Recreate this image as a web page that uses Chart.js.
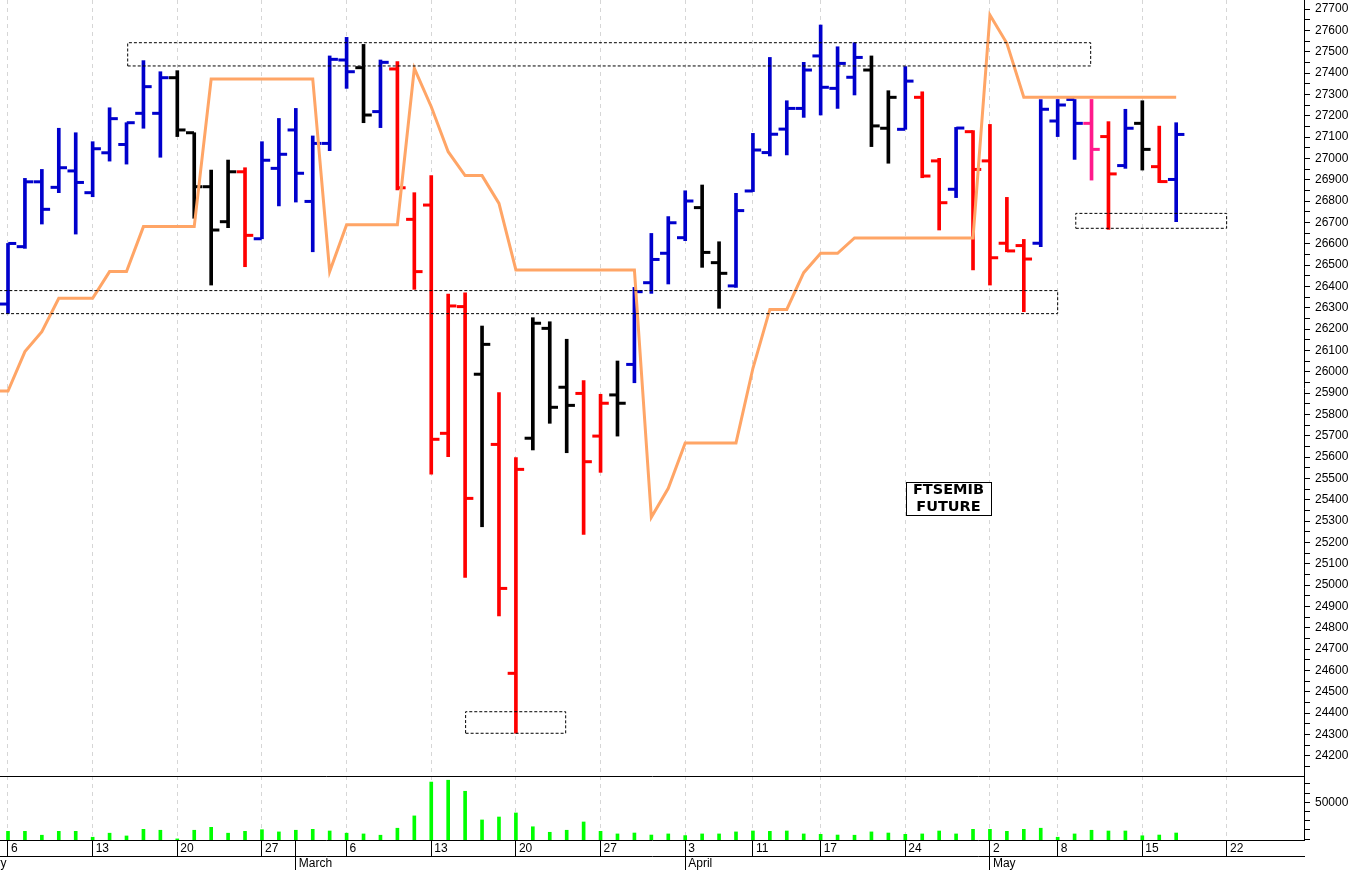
<!DOCTYPE html>
<html>
<head>
<meta charset="utf-8">
<title>FTSEMIB Future</title>
<script src="https://cdn.jsdelivr.net/npm/chart.js@4.4.0/dist/chart.umd.min.js"></script>
<style>
  html, body { margin: 0; padding: 0; background: #fff; }
  #wrap { position: relative; width: 1352px; height: 870px; overflow: hidden; }
  #priceChart { position: absolute; left: 0; top: 0; }
  #volChart { position: absolute; left: 0; top: 776px; }
</style>
</head>
<body>
<div id="wrap">
  <canvas id="priceChart" width="1352" height="776"></canvas>
  <canvas id="volChart" width="1352" height="94"></canvas>
</div>
<script>
// barre giornaliere, indice 0 = lunedi 6 febbraio
const opens = [26317, 26586, 26890, 26864, 26941, 26839, 27026, 27065, 27211, 27211,
  27378, 27120, 26867, 26703, 26937, 26623, 26953, 27133, 26798, 27070,
  27461, 27425, 27219, 27419, 26714, 26781, 25711, 26305, 25988, 25659,
  24586, 25688, 26203, 25927, 25898, 25698, 25891, 26034, 26417, 26555,
  26628, 26769, 26511, 26402, 26847, 27027, 27137, 27234, 27480, 27328,
  27380, 27414, 27141, 27136, 27286, 26988, 26855, 27125, 26988, 26602,
  26591, 26602, 27175, 27276, 27164, 27102, 26966, 27164, 26961, 26901];
const highs = [26601, 26906, 26948, 27141, 27120, 27078, 27237, 27167, 27458, 27406,
  27411, 27120, 26945, 26992, 26956, 27078, 27187, 27234, 27105, 27480,
  27567, 27534, 27461, 27453, 26839, 26919, 26364, 26370, 26214, 25902,
  25597, 26253, 26234, 26152, 25958, 25894, 26050, 26395, 26648, 26727,
  26848, 26875, 26609, 26836, 27117, 27473, 27270, 27450, 27625, 27523,
  27542, 27480, 27317, 27430, 27312, 27000, 27145, 27130, 27159, 26817,
  26620, 27276, 27276, 27276, 27276, 27172, 27230, 27270, 27151, 27167];
const lows = [26273, 26578, 26692, 26839, 26645, 26820, 26987, 26973, 27141, 27005,
  27102, 26719, 26406, 26675, 26492, 26623, 26777, 26795, 26562, 27036,
  27328, 27167, 27144, 26852, 26386, 25520, 25602, 25036, 25273, 24855,
  24305, 25633, 25758, 25620, 25237, 25528, 25698, 25948, 26367, 26411,
  26614, 26489, 26297, 26395, 26844, 27011, 27016, 27192, 27203, 27234,
  27297, 27055, 26977, 27136, 26909, 26664, 26816, 26477, 26406, 26562,
  26281, 26586, 27102, 26995, 26898, 26667, 26953, 26945, 26886, 26703];
const closes = [26601, 26890, 26761, 26956, 26887, 27045, 27186, 27167, 27336, 27378,
  27133, 26867, 26664, 26937, 26639, 26991, 27019, 26930, 27070, 27464,
  27406, 27203, 27450, 26862, 26469, 25683, 26308, 25406, 26128, 24984,
  25542, 26227, 25833, 25842, 25578, 25852, 25852, 26375, 26526, 26698,
  26800, 26559, 26461, 26755, 27039, 27113, 27234, 27414, 27333, 27445,
  27473, 27152, 27286, 27362, 26917, 26792, 27142, 26948, 26534, 26566,
  26528, 27230, 27250, 27164, 27042, 26927, 27141, 27042, 26891, 27112];
// b = blu, k = nero, r = rosso, p = rosa
const barColors = ['b','b','b','b','b','b','b','b','b','b',
  'k','k','k','k','r','b','b','b','b','b',
  'b','k','b','r','r','r','r','r','k','r',
  'r','k','k','k','r','r','k','b','b','b',
  'b','k','k','b','b','b','b','b','b','b',
  'b','k','k','b','r','r','b','r','r','r',
  'r','b','b','b','p','r','b','k','r','b'];
const volumes = [34200, 34200, 32100, 34200, 34200, 31000, 33200, 31700, 35300, 34800,
  30100, 34800, 36400, 33200, 34200, 35100, 33900, 34800, 35300, 34400,
  33200, 32800, 32100, 35900, 42600, 61000, 62000, 56000, 40400, 42000,
  44200, 36700, 33700, 34800, 39300, 34200, 32800, 33300, 32200, 32800,
  31900, 32800, 32800, 33900, 34400, 34200, 34400, 32800, 32600, 32200,
  32100, 33900, 33300, 32600, 32800, 34400, 32800, 35300, 35300, 34200,
  35300, 35900, 31000, 32800, 34800, 34400, 34400, 31800, 32200, 33300];

// linea arancione, parte da venerdi 3 febbraio (indice -1)
const lineStart = -1;
const lineValues = [25909, 25909, 26094, 26187, 26344, 26344, 26344, 26469, 26469, 26680, 26680, 26680, 26680,
  27372, 27372, 27372, 27372, 27372, 27372, 27372,
  26469, 26689, 26689, 26689, 26689,
  27422, 27242, 27031, 26919, 26919, 26789,
  26477, 26477, 26477, 26477, 26477, 26477, 26477, 26477,
  25317, 25453, 25666, 25666, 25666, 25666,
  26016, 26292, 26292, 26464, 26555, 26555,
  26627, 26627, 26627, 26627, 26627, 26627, 26627, 26627,
  27672, 27539,
  27286, 27286, 27286, 27286, 27286, 27286, 27286, 27286, 27286, 27286];

// zone tratteggiate: da indice, a indice, minimo, massimo
const zones = [
  [7.07, 63.95, 27433, 27542],
  [-1, 62.0, 26272, 26380],
  [27.03, 32.94, 24305, 24406],
  [63.07, 71.98, 26672, 26742]
];

// etichette asse date
const weekTicks = [0, 5, 10, 15, 20, 25, 30, 35, 40, 44, 48, 53, 58, 62, 67, 72];
const weekLabels = ['6', '13', '20', '27', '6', '13', '20', '27', '3', '11', '17', '24', '2', '8', '15', '22'];
const monthTicks = [-3.1, 17, 40, 58];
const monthLabels = ['February', 'March', 'April', 'May'];

const priceTicks = [];
for (let v = 24150; v <= 27700; v += 50) priceTicks.push(v);
const volTicks = [30000, 35000, 40000, 45000, 50000, 55000, 60000];

const note = { x: 55.55, y: 25406, lines: ['FTSEMIB', 'FUTURE'] };

// range assi
const xMin = -0.4725, xMax = 76.55;
const yMin = 24104.7, yMax = 27742.2;
const vMin = 29500, vMax = 64300;

const colorMap = { b: '#0000cc', k: '#000000', r: '#ff0000', p: '#ff1a8c' };
const barCol = barColors.map(c => colorMap[c]);
const tickOff = 0.25;

Chart.defaults.font.family = "'Liberation Sans', Arial, sans-serif";
Chart.defaults.font.size = 12;
Chart.defaults.color = '#000';

const noPad = s => { s.paddingLeft = 0; s.paddingRight = 0; s.paddingTop = 0; s.paddingBottom = 0; };

const rangeData = highs.map((h, i) => ({ x: i, y: [lows[i], h] }));
const openData = opens.map((o, i) => ({ x: i - tickOff, y: o }));
const closeData = closes.map((c, i) => ({ x: i + tickOff, y: c }));
const lineData = lineValues.map((v, i) => ({ x: i + lineStart, y: v }));
const zoneSets = zones.map(z => ({
  type: 'line',
  data: [{ x: z[0], y: z[2] }, { x: z[1], y: z[2] }, { x: z[1], y: z[3] }, { x: z[0], y: z[3] }, { x: z[0], y: z[2] }],
  borderColor: '#000', borderWidth: 1, borderDash: [3, 2], pointRadius: 0, fill: false, order: 0
}));

const notePlugin = {
  id: 'note',
  afterDatasetsDraw(chart) {
    const { ctx, scales: { x, y } } = chart;
    const cx = x.getPixelForValue(note.x), cy = y.getPixelForValue(note.y);
    const w = 85, h = 33;
    const left = Math.round(cx - w / 2) + 0.5, top = Math.round(cy - h / 2) + 0.5;
    ctx.save();
    ctx.fillStyle = '#fff';
    ctx.fillRect(left, top, w, h);
    ctx.strokeStyle = '#000';
    ctx.lineWidth = 1;
    ctx.strokeRect(left, top, w, h);
    ctx.fillStyle = '#000';
    ctx.font = "bold 14.5px 'DejaVu Sans', sans-serif";
    ctx.textAlign = 'center';
    ctx.textBaseline = 'middle';
    ctx.fillText(note.lines[0], cx, cy - 8);
    ctx.fillText(note.lines[1], cx, cy + 9);
    ctx.restore();
  }
};

const gridGrey = '#d6d6d6';

new Chart(document.getElementById('priceChart'), {
  type: 'scatter',
  data: {
    datasets: [
      ...zoneSets,
      { type: 'line', data: lineData, borderColor: '#ffa566', borderWidth: 3, pointRadius: 0, tension: 0, fill: false, order: 1 },
      { type: 'scatter', data: openData, pointStyle: 'line', pointRadius: 4, pointBorderWidth: 3, pointBorderColor: barCol, pointBackgroundColor: barCol, order: 2 },
      { type: 'scatter', data: closeData, pointStyle: 'line', pointRadius: 4, pointBorderWidth: 3, pointBorderColor: barCol, pointBackgroundColor: barCol, order: 2 },
      { type: 'bar', data: rangeData, backgroundColor: barCol, barThickness: 3, order: 3 }
    ]
  },
  options: {
    responsive: false,
    animation: false,
    devicePixelRatio: 1,
    events: [],
    layout: { padding: 0, autoPadding: false },
    plugins: { legend: { display: false }, tooltip: { enabled: false } },
    scales: {
      x: {
        type: 'linear', min: xMin, max: xMax, offset: false, position: 'bottom',
        afterBuildTicks: s => { s.ticks = weekTicks.map(v => ({ value: v })); },
        afterFit: s => { s.height = 0; noPad(s); },
        ticks: { display: false },
        grid: { offset: false, color: gridGrey, lineWidth: 1, drawTicks: false },
        border: { display: false, dash: [4, 4] }
      },
      y: {
        type: 'linear', position: 'right', min: yMin, max: yMax, beginAtZero: false,
        afterBuildTicks: s => { s.ticks = priceTicks.map(v => ({ value: v })); },
        afterFit: s => { s.width = 48; noPad(s); },
        ticks: { autoSkip: false, padding: 5, color: '#000', callback: v => (v % 100 === 0 ? String(v) : '') },
        grid: { drawOnChartArea: false, tickLength: 6, tickColor: '#000' },
        border: { color: '#000' }
      }
    }
  },
  plugins: [notePlugin]
});

new Chart(document.getElementById('volChart'), {
  type: 'scatter',
  data: {
    datasets: [
      { type: 'bar', data: volumes.map((v, i) => ({ x: i, y: v })), backgroundColor: '#00ff00', barThickness: 3, clip: 0 }
    ]
  },
  options: {
    responsive: false,
    animation: false,
    devicePixelRatio: 1,
    events: [],
    layout: { padding: 0, autoPadding: false },
    plugins: { legend: { display: false }, tooltip: { enabled: false } },
    scales: {
      xt: {
        type: 'linear', min: xMin, max: xMax, position: 'top',
        afterFit: s => { s.height = 0; noPad(s); },
        ticks: { display: false },
        grid: { drawOnChartArea: false, drawTicks: false },
        border: { color: '#000' }
      },
      x: {
        type: 'linear', min: xMin, max: xMax, offset: false, position: 'bottom', weight: 0,
        afterBuildTicks: s => { s.ticks = weekTicks.concat([17]).sort((a, b) => a - b).map(v => ({ value: v })); },
        afterFit: s => { s.height = 16; noPad(s); },
        ticks: {
          autoSkip: false, maxRotation: 0, minRotation: 0, align: 'start', labelOffset: 3, padding: -15,
          color: '#000',
          callback: v => { const k = weekTicks.indexOf(v); return k < 0 ? '' : weekLabels[k]; }
        },
        grid: {
          offset: false, tickLength: 16, tickColor: '#000',
          color: c => (c.tick && c.tick.value === 17 ? 'rgba(0,0,0,0)' : gridGrey)
        },
        border: { color: '#000', dash: [4, 4] }
      },
      x2: {
        type: 'linear', min: xMin, max: xMax, offset: false, position: 'bottom', weight: 1,
        afterBuildTicks: s => { s.ticks = monthTicks.map(v => ({ value: v })); },
        afterFit: s => { s.height = 14; noPad(s); },
        ticks: {
          autoSkip: false, maxRotation: 0, minRotation: 0, align: 'start', labelOffset: 3, padding: -14,
          color: '#000',
          callback: (v, idx) => monthLabels[idx]
        },
        grid: { offset: false, drawOnChartArea: false, tickLength: 14, tickColor: '#000' },
        border: { color: '#000' }
      },
      y: {
        type: 'linear', position: 'right', min: vMin, max: vMax, beginAtZero: false,
        afterBuildTicks: s => { s.ticks = volTicks.map(v => ({ value: v })); },
        afterFit: s => { s.width = 48; noPad(s); },
        ticks: { autoSkip: false, padding: 5, color: '#000', callback: v => (v === 50000 ? '50000' : '') },
        grid: { drawOnChartArea: false, tickLength: 6, tickColor: '#000' },
        border: { color: '#000' }
      }
    }
  }
});
</script>
</body>
</html>
